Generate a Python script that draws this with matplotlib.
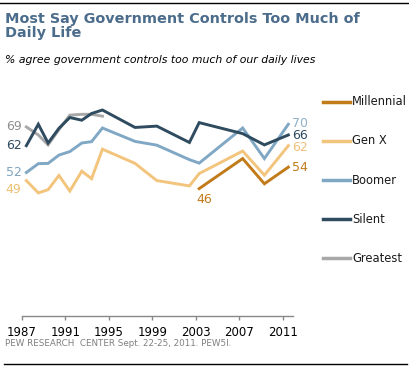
import matplotlib
matplotlib.use("Agg")
import matplotlib.pyplot as plt
from matplotlib.lines import Line2D

# survey dates (fractional years) and % agree
years = [1987.4, 1988.5, 1989.4, 1990.4, 1991.4, 1992.5, 1993.4, 1994.4,
         1997.4, 1999.4, 2002.4, 2003.3, 2007.3, 2009.3, 2011.5]
silent = [62, 70, 63, 68.5, 72.5, 71.5, 74, 75.3, 68.8, 69.3, 63.2, 70.6, 66.5, 62.3, 66]
boomer = [52, 55.3, 55.4, 58.5, 59.8, 63, 63.5, 68.6, 63.6, 62.2, 56.8, 55.5, 68.6, 57.2, 70]
genx = [49, 44.4, 45.6, 50.9, 45.1, 52.5, 49.7, 60.7, 55.4, 49, 47, 51.6, 60, 51, 62]
mill_years = [2003.3, 2007.3, 2009.3, 2011.5]
millennial = [46, 57.2, 47.8, 54]
great_years = [1987.4, 1988.5, 1989.4, 1990.4, 1991.4, 1992.5, 1993.4, 1994.4]
greatest = [69, 66, 62.3, 68, 73.4, 73.7, 73.7, 73]

xticks = [1987, 1991, 1995, 1999, 2003, 2007, 2011]

c_mill = '#c27b19'
c_genx = '#f3c47c'
c_boom = '#80a8c5'
c_sil = '#2f4b5f'
c_grt = '#a8a8a8'

W, H = 410, 370
fig = plt.figure(figsize=(4.1, 3.7), dpi=100)

# axes placed in pixel terms
ax_left, ax_right, ax_top, ax_bot = 22, 293, 95, 316
ax = fig.add_axes([ax_left / W, 1 - ax_bot / H, (ax_right - ax_left) / W, (ax_bot - ax_top) / H])
ax.set_xlim(1987, 2011.93)
ax.set_ylim(-1.5, 80.9)

lw = 2.1
ax.plot(great_years, greatest, color=c_grt, lw=lw, solid_joinstyle='miter')
ax.plot(years, genx, color=c_genx, lw=lw, solid_joinstyle='miter')
ax.plot(years, boomer, color=c_boom, lw=lw, solid_joinstyle='miter')
ax.plot(years, silent, color=c_sil, lw=lw, solid_joinstyle='miter')
ax.plot(mill_years, millennial, color=c_mill, lw=lw, solid_joinstyle='miter')

for s in ['top', 'right', 'left']:
    ax.spines[s].set_visible(False)
ax.spines['bottom'].set_color('#888888')
ax.spines['bottom'].set_linewidth(1)
ax.set_yticks([])
ax.set_xticks(xticks)
ax.set_xticklabels([str(t) for t in xticks])
ax.tick_params(axis='x', direction='out', length=3, width=1, color='#888888',
               labelsize=8.5, pad=4, labelcolor='black')

# start / end value labels
fs = 9
x0 = years[0] - 0.45
ax.text(x0, greatest[0], '69', color='#8e8e8e', fontsize=fs, ha='right', va='center')
ax.text(x0, silent[0], '62', color=c_sil, fontsize=fs, ha='right', va='center')
ax.text(x0, boomer[0], '52', color='#7fa3bf', fontsize=fs, ha='right', va='center')
ax.text(x0, genx[0] - 3.2, '49', color='#efbf73', fontsize=fs, ha='right', va='center')
x1 = years[-1] + 0.35
ax.text(x1, boomer[-1] + 0.2, '70', color='#8fb0c9', fontsize=fs, ha='left', va='center', clip_on=False)
ax.text(x1, silent[-1] - 0.3, '66', color=c_sil, fontsize=fs, ha='left', va='center', clip_on=False)
ax.text(x1, genx[-1] - 0.6, '62', color='#f0c07a', fontsize=fs, ha='left', va='center', clip_on=False)
ax.text(x1, millennial[-1], '54', color=c_mill, fontsize=fs, ha='left', va='center', clip_on=False)
ax.text(mill_years[0] + 0.5, millennial[0] - 4.0, '46', color=c_mill, fontsize=fs, ha='center', va='center')

# legend drawn manually on the figure
leg = [('Millennial', c_mill, 101.7), ('Gen X', c_genx, 141), ('Boomer', c_boom, 180),
       ('Silent', c_sil, 219.3), ('Greatest', c_grt, 258.3)]
for name, col, ypix in leg:
    fig.add_artist(Line2D([323 / W, 350 / W], [1 - ypix / H, 1 - ypix / H], color=col, lw=2.5))
    fig.text(352 / W, 1 - ypix / H, name, fontsize=8.3, color='#1a1a1a', ha='left', va='center')

# titles
fig.text(5 / W, 1 - 12 / H, 'Most Say Government Controls Too Much of\nDaily Life',
         fontsize=10.4, fontweight='bold', color='#4b6c8b', ha='left', va='top', linespacing=0.98)
fig.text(5 / W, 1 - 60 / H, '% agree government controls too much of our daily lives',
         fontsize=7.8, style='italic', color='black', ha='left', va='center')
fig.text(5 / W, 1 - 343 / H, 'PEW RESEARCH  CENTER Sept. 22-25, 2011. PEW5l.',
         fontsize=6.3, color='#7f7f7f', ha='left', va='center')

# rules at top and bottom
fig.add_artist(Line2D([0, 1], [1 - 3.3 / H, 1 - 3.3 / H], color='black', lw=1))
fig.add_artist(Line2D([4 / W, 407 / W], [1 - 364 / H, 1 - 364 / H], color='black', lw=1))

fig.savefig('out.png', dpi=100)
